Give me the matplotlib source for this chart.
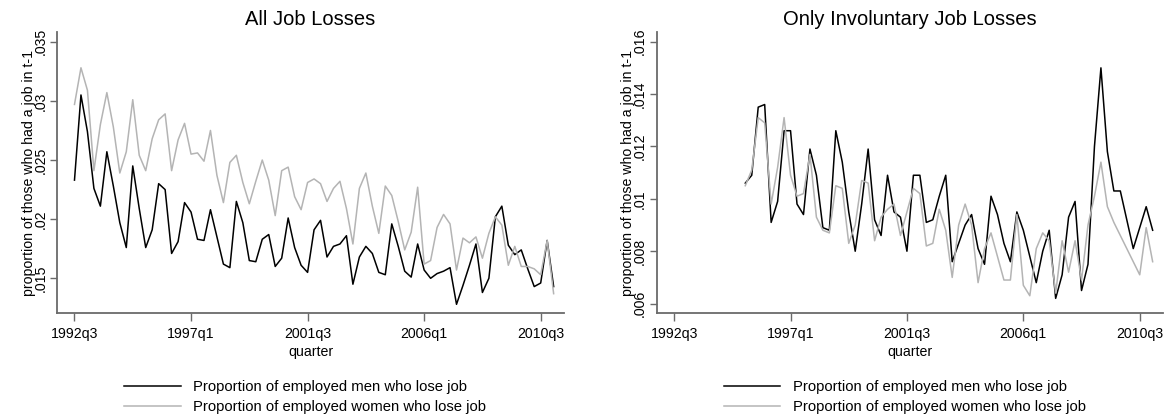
import numpy as np
import matplotlib
matplotlib.use("Agg")
import matplotlib.pyplot as plt

plt.rcParams['font.family'] = ['Liberation Sans', 'DejaVu Sans']

# quarterly data
first_all = "1992q3"
first_invol = "1995q2"

men_all = [0.0233, 0.0305, 0.0274, 0.0226, 0.0211, 0.0257, 0.0228, 0.0197, 0.0176, 0.0245,
           0.0209, 0.0176, 0.0191, 0.0230, 0.0225, 0.0171, 0.0181, 0.0214, 0.0206, 0.0183,
           0.0182, 0.0208, 0.0185, 0.0162, 0.0159, 0.0215, 0.0197, 0.0165, 0.0164, 0.0183,
           0.0187, 0.0160, 0.0167, 0.0201, 0.0176, 0.0161, 0.0155, 0.0191, 0.0199, 0.0168,
           0.0177, 0.0179, 0.0186, 0.0145, 0.0168, 0.0177, 0.0171, 0.0155, 0.0153, 0.0196,
           0.0177, 0.0156, 0.0151, 0.0179, 0.0157, 0.0150, 0.0154, 0.0156, 0.0159, 0.0128,
           0.0144, 0.0161, 0.0179, 0.0138, 0.0150, 0.0202, 0.0211, 0.0178, 0.0170, 0.0174,
           0.0158, 0.0143, 0.0146, 0.0182, 0.0143]
women_all = [0.0297, 0.0328, 0.0309, 0.0241, 0.0280, 0.0307, 0.0278, 0.0239, 0.0257, 0.0301,
             0.0254, 0.0241, 0.0268, 0.0284, 0.0289, 0.0241, 0.0267, 0.0281, 0.0255, 0.0256,
             0.0249, 0.0275, 0.0237, 0.0214, 0.0248, 0.0254, 0.0231, 0.0213, 0.0232, 0.0250,
             0.0233, 0.0203, 0.0241, 0.0244, 0.0219, 0.0208, 0.0231, 0.0234, 0.0230, 0.0215,
             0.0226, 0.0232, 0.0209, 0.0179, 0.0226, 0.0239, 0.0211, 0.0188, 0.0228, 0.0220,
             0.0198, 0.0174, 0.0189, 0.0227, 0.0162, 0.0165, 0.0193, 0.0204, 0.0196, 0.0157,
             0.0184, 0.0180, 0.0185, 0.0167, 0.0188, 0.0202, 0.0195, 0.0161, 0.0177, 0.0160,
             0.0160, 0.0158, 0.0153, 0.0182, 0.0137]

men_invol = [0.0106, 0.0109, 0.0135, 0.0136, 0.0091, 0.0099, 0.0126, 0.0126, 0.0098, 0.0094,
             0.0119, 0.0109, 0.0089, 0.0088, 0.0126, 0.0114, 0.0095, 0.0080, 0.0098, 0.0119,
             0.0092, 0.0086, 0.0109, 0.0095, 0.0093, 0.0080, 0.0109, 0.0109, 0.0091, 0.0092,
             0.0101, 0.0109, 0.0076, 0.0083, 0.0090, 0.0094, 0.0081, 0.0075, 0.0101, 0.0094,
             0.0083, 0.0076, 0.0095, 0.0088, 0.0078, 0.0068, 0.0080, 0.0088, 0.0062, 0.0071,
             0.0093, 0.0099, 0.0065, 0.0075, 0.0120, 0.0150, 0.0118, 0.0103, 0.0103, 0.0092,
             0.0081, 0.0089, 0.0097, 0.0088]
women_invol = [0.0105, 0.0111, 0.0131, 0.0129, 0.0098, 0.0112, 0.0131, 0.0109, 0.0101, 0.0102,
               0.0117, 0.0093, 0.0088, 0.0087, 0.0105, 0.0104, 0.0083, 0.0090, 0.0107, 0.0106,
               0.0084, 0.0093, 0.0096, 0.0098, 0.0086, 0.0095, 0.0104, 0.0102, 0.0082, 0.0083,
               0.0096, 0.0088, 0.0070, 0.0090, 0.0098, 0.0090, 0.0068, 0.0081, 0.0087, 0.0078,
               0.0069, 0.0069, 0.0094, 0.0067, 0.0063, 0.0081, 0.0087, 0.0084, 0.0064, 0.0084,
               0.0072, 0.0084, 0.0069, 0.0090, 0.0101, 0.0114, 0.0097, 0.0091, 0.0086, 0.0081,
               0.0076, 0.0071, 0.0089, 0.0076]

xtick_labels = ["1992q3", "1997q1", "2001q3", "2006q1", "2010q3"]
yticks_all = [0.015, 0.02, 0.025, 0.03, 0.035]
ylabels_all = [".015", ".02", ".025", ".03", ".035"]
yticks_invol = [0.006, 0.008, 0.01, 0.012, 0.014, 0.016]
ylabels_invol = [".006", ".008", ".01", ".012", ".014", ".016"]

titles = ["All Job Losses", "Only Involuntary Job Losses"]
legend_labels = ["Proportion of employed men who lose job",
                 "Proportion of employed women who lose job"]


def qnum(s):
    y, q = s.split("q")
    return int(y) * 4 + int(q) - 1


W, H = 1171, 417
fig = plt.figure(figsize=(W / 100, H / 100), dpi=100)
fig.patch.set_facecolor("white")

ax_l = fig.add_axes([57 / W, 1 - 313.3 / H, (564 - 57) / W, (313.3 - 31.7) / H])
ax_r = fig.add_axes([656.7 / W, 1 - 313.3 / H, (1163 - 656.7) / W, (313.3 - 31.7) / H])

base = qnum("1992q3")
panels = [
    (ax_l, first_all, men_all, women_all, yticks_all, ylabels_all, (0.01204, 0.03585), titles[0]),
    (ax_r, first_invol, men_invol, women_invol, yticks_invol, ylabels_invol, (0.00563, 0.01638), titles[1]),
]

fs = 10.2
spine_col = "#6a6a6a"
for ax, start, men, women, yt, yl, ylim, title in panels:
    x = qnum(start) + np.arange(len(men))
    l1, = ax.plot(x, men, color="black", lw=1.1)
    l2, = ax.plot(x, women, color="#b4b4b4", lw=1.1)

    ax.set_xlim(base - 2.7, base + 75.6)
    ax.set_ylim(*ylim)
    ax.set_xticks([qnum(s) for s in xtick_labels])
    ax.set_xticklabels(xtick_labels, fontsize=fs)
    ax.set_yticks(yt)
    ax.set_yticklabels(yl, fontsize=fs, rotation=90, va="center")

    for s in ["top", "right"]:
        ax.spines[s].set_visible(False)
    for s in ["left", "bottom"]:
        ax.spines[s].set_color(spine_col)
        ax.spines[s].set_linewidth(1.3)
    ax.tick_params(axis="x", length=6, width=1, color=spine_col, pad=4)
    ax.tick_params(axis="y", length=5, width=1, color=spine_col, pad=2)

    ax.set_xlabel("quarter", fontsize=fs)
    ax.xaxis.set_label_coords(0.5, -0.136)
    ax.xaxis.label.set_va("center")
    ax.set_ylabel("proportion of those who had a job in t-1", fontsize=fs)
    ax.yaxis.set_label_coords(-0.056, 0.5)
    ax.yaxis.label.set_va("center")

    ax.text(0.5, 1.045, title, transform=ax.transAxes, ha="center", va="center", fontsize=14.5)

    ax.legend([l1, l2], legend_labels, loc="upper center", bbox_to_anchor=(0.49, -0.216),
              frameon=False, fontsize=10.7, handlelength=3.8, handletextpad=0.85,
              labelspacing=0.4, borderaxespad=0)

fig.savefig("out.png", dpi=100, facecolor="white")
